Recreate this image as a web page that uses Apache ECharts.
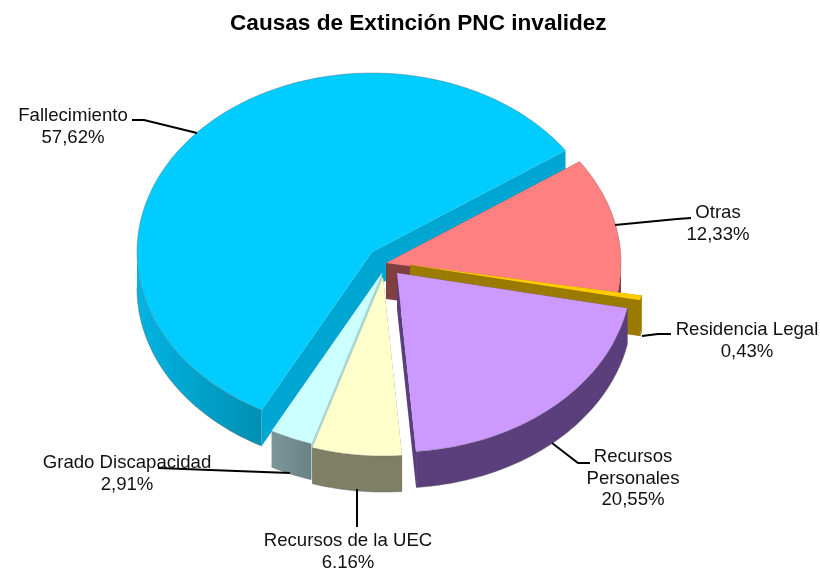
<!DOCTYPE html>
<html>
<head>
<meta charset="utf-8">
<style>
html, body { margin: 0; padding: 0; background: #fff; }
#main { width: 820px; height: 568px; }
</style>
<script src="https://cdn.jsdelivr.net/npm/echarts@6/dist/echarts.min.js"></script>
</head>
<body>
<div id="main"></div>
<script>
var categories = ['Fallecimiento', 'Otras', 'Residencia Legal', 'Recursos Personales', 'Recursos de la UEC', 'Grado Discapacidad'];
var percentages = [57.62, 12.33, 0.43, 20.55, 6.16, 2.91];
var percentLabels = ['57,62%', '12,33%', '0,43%', '20,55%', '6,16%', '2,91%'];

var topColors = ['#00CCFF', '#FF8080', '#FFCC00', '#CC99FF', '#FFFFCC', '#CCFFFF'];
var wallLeftColors = ['#00B4E2', '#80403F', '#9A7B00', '#5B3F7C', '#7F7F66', '#7C979A'];
var wallRightColors = ['#008FB3', '#80403F', '#9A7B00', '#5B3F7C', '#7F7F66', '#688285'];
var cutColors = ['#00A6D2', '#80403F', '#9A7B00', '#5B3F7C', '#7F7F66', '#A9D6D6'];

// pie layout, tilted: rx/ry is the ellipse of the top face, depth the wall height
var RX = 235, RY = 179, DEPTH = 36, START = 208;
// apex of each exploded slice
var apexX = [372, 386, 410, 397, 383, 382];
var apexY = [252, 263, 265, 273, 277, 273];
// slices are painted back to front, Grado goes under its neighbour
var drawOrder = [0, 1, 2, 3, 5, 4];
// hand placed labels, [x centre, y centre of first line]
var labelPos = [[73, 116], [718, 213], [747, 330], [633, 457], [348, 541], [127, 463]];
var labelText = ['Fallecimiento', 'Otras', 'Residencia Legal', 'Recursos\nPersonales', 'Recursos de la UEC', 'Grado Discapacidad'];
var leaders = [
    [[132, 120], [144, 120], [197, 133]],
    [[615, 225], [677, 219], [691, 218]],
    [[642, 336], [658, 334], [671, 334]],
    [[552, 443], [578, 463], [590, 463]],
    [[357, 489], [357, 527]],
    [[158, 468], [210, 470], [290, 473]]
];
var FONT = '"Liberation Sans", Arial, sans-serif';
var LINE_H = 21.5;
var EDGE = 'rgba(90,90,90,0.45)';

// start angle (degrees, clockwise from north) of every slice
var starts = [];
var acc = START;
percentages.forEach(function (p) {
    starts.push(acc);
    acc += p * 3.6;
});

function rimPoint(i, deg, dy) {
    var a = deg * Math.PI / 180;
    return [apexX[i] + RX * Math.sin(a), apexY[i] - RY * Math.cos(a) + (dy || 0)];
}

function arcPoints(i, from, to, dy) {
    var pts = [];
    var n = Math.max(2, Math.ceil(Math.abs(to - from)));
    for (var k = 0; k <= n; k++) {
        pts.push(rimPoint(i, from + (to - from) * k / n, dy));
    }
    return pts;
}

function renderSlice(params, api) {
    var i = api.value(2);
    var from = starts[i];
    var to = from + api.value(1) * 3.6;
    var children = [];
    var apex = [apexX[i], apexY[i]];

    // cut faces, going down from both straight edges
    [from, to].forEach(function (deg) {
        var p = rimPoint(i, deg);
        var q = rimPoint(i, deg, DEPTH);
        children.push({
            type: 'polygon',
            shape: { points: [apex, p, q, [apex[0], apex[1] + DEPTH]] },
            style: { fill: cutColors[i] }
        });
    });

    // outer wall, only where the rim faces the viewer (90..270 and the same a turn later)
    [[90, 270], [450, 630]].forEach(function (range) {
        var a = Math.max(from, range[0]);
        var b = Math.min(to, range[1]);
        if (b > a) {
            var pts = arcPoints(i, a, b, 0).concat(arcPoints(i, b, a, DEPTH));
            children.push({
                type: 'polygon',
                shape: { points: pts },
                style: {
                    fill: {
                        type: 'linear', x: 0, y: 0, x2: 1, y2: 0,
                        colorStops: [
                            { offset: 0, color: wallLeftColors[i] },
                            { offset: 1, color: wallRightColors[i] }
                        ]
                    }
                }
            });
            children.push({
                type: 'polyline',
                shape: { points: arcPoints(i, a, b, DEPTH) },
                style: { stroke: EDGE, lineWidth: 1, fill: null }
            });
        }
    });

    // top face
    children.push({
        type: 'polygon',
        shape: { points: [apex].concat(arcPoints(i, from, to, 0)) },
        style: { fill: topColors[i] }
    });
    children.push({
        type: 'polyline',
        shape: { points: arcPoints(i, from, to, 0) },
        style: { stroke: EDGE, lineWidth: 0.8, fill: null }
    });

    return { type: 'group', children: children };
}

function renderLabel(params, api) {
    var i = api.value(2);
    return {
        type: 'group',
        children: [{
            type: 'polyline',
            shape: { points: leaders[i] },
            style: { stroke: '#000', lineWidth: 2, fill: null }
        }, {
            type: 'text',
            x: labelPos[i][0],
            y: labelPos[i][1] - LINE_H / 2,
            style: {
                text: labelText[i] + '\n' + percentLabels[i],
                font: '18.6px ' + FONT,
                fill: '#111',
                lineHeight: LINE_H,
                align: 'center',
                verticalAlign: 'top'
            }
        }]
    };
}

var rows = drawOrder.map(function (i) { return [categories[i], percentages[i], i]; });

var chart = echarts.init(document.getElementById('main'), null, { renderer: 'canvas' });
chart.setOption({
    animation: false,
    backgroundColor: '#fff',
    title: {
        text: 'Causas de Extinción PNC invalidez',
        left: 225,
        top: 7,
        textStyle: { fontFamily: FONT, fontSize: 22.6, fontWeight: 'bold', color: '#000' }
    },
    series: [{
        type: 'custom',
        coordinateSystem: 'none',
        renderItem: renderSlice,
        data: rows,
        z: 2
    }, {
        type: 'custom',
        coordinateSystem: 'none',
        renderItem: renderLabel,
        data: rows,
        z: 3
    }]
});
</script>
</body>
</html>
